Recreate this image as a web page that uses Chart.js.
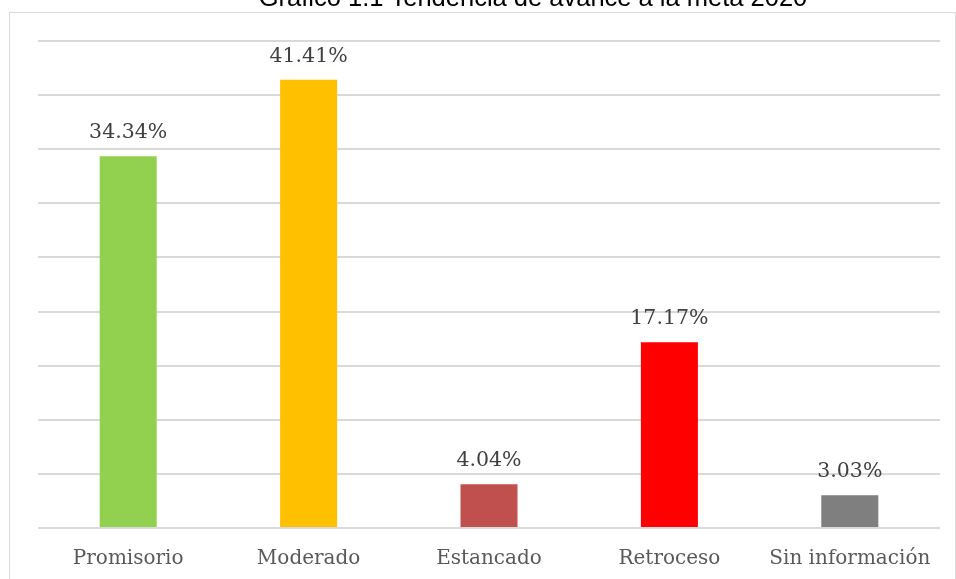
<!DOCTYPE html>
<html>
<head>
<meta charset="utf-8">
<script src="https://cdn.jsdelivr.net/npm/chart.js@4"></script>
<style>
  html, body { margin: 0; padding: 0; background: #fff; }
  #wrap { width: 956px; height: 579px; position: relative; }
</style>
</head>
<body>
<div id="wrap"><canvas id="bar-chart"></canvas></div>
<script>
var categories = ["Promisorio", "Moderado", "Estancado", "Retroceso", "Sin información"];
var values = [34.34, 41.41, 4.04, 17.17, 3.03];
var barColors = ["#92d050", "#ffc000", "#c0504d", "#ff0000", "#7f7f7f"];
var chartTitle = "Gráfico 1.1 Tendencia de avance a la meta 2020";

// frame + title (title is partly cut off at the top in the original)
var framePlugin = {
  id: 'frame',
  beforeDraw: function(chart) {
    var ctx = chart.ctx;
    ctx.save();
    ctx.fillStyle = '#fff';
    ctx.fillRect(0, 0, chart.width, chart.height);
    ctx.strokeStyle = '#d9d9d9';
    ctx.lineWidth = 1;
    ctx.strokeRect(9.5, 12.5, chart.width - 10, chart.height + 20);
    ctx.fillStyle = '#000';
    ctx.font = '25.5px "Liberation Sans", Arial, sans-serif';
    ctx.textAlign = 'center';
    ctx.textBaseline = 'alphabetic';
    ctx.fillText(chartTitle, 533, 6);
    ctx.restore();
  }
};

// value labels above bars
var valueLabels = {
  id: 'valueLabels',
  afterDatasetsDraw: function(chart) {
    var ctx = chart.ctx;
    var meta = chart.getDatasetMeta(0);
    ctx.save();
    ctx.fillStyle = '#404040';
    ctx.font = '20.5px "DejaVu Serif", serif';
    ctx.textAlign = 'center';
    ctx.textBaseline = 'alphabetic';
    meta.data.forEach(function(bar, i) {
      ctx.fillText(values[i].toFixed(2) + '%', bar.x, bar.y - 18);
    });
    ctx.restore();
  }
};

new Chart(document.getElementById("bar-chart"), {
  type: 'bar',
  data: {
    labels: categories,
    datasets: [{
      data: values,
      backgroundColor: barColors,
      barPercentage: 0.316,
      categoryPercentage: 1
    }]
  },
  options: {
    responsive: true,
    maintainAspectRatio: false,
    animation: false,
    layout: { padding: { left: 38, right: 16, top: 41, bottom: -11 } },
    plugins: {
      legend: { display: false },
      title: { display: false },
      tooltip: { enabled: false }
    },
    scales: {
      x: {
        grid: { display: false, drawTicks: false },
        border: { display: false },
        ticks: {
          color: '#595959',
          padding: 19,
          font: { family: '"DejaVu Serif", serif', size: 20 }
        }
      },
      y: {
        min: 0,
        max: 45,
        ticks: { display: false, stepSize: 5 },
        grid: { color: '#d9d9d9', lineWidth: 2, drawTicks: false },
        border: { display: false }
      }
    }
  },
  plugins: [framePlugin, valueLabels]
});
</script>
</body>
</html>
